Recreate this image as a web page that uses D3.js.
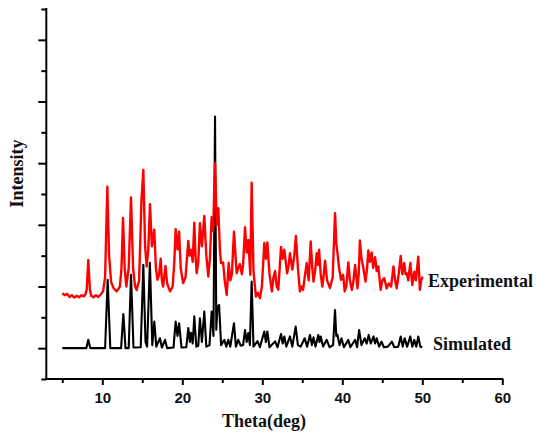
<!DOCTYPE html>
<html>
<head>
<meta charset="utf-8">
<script src="https://cdn.jsdelivr.net/npm/d3@7"></script>
<style>
  html, body { margin: 0; padding: 0; background: #fff; }
  svg { display: block; }
</style>
</head>
<body>
<svg id="chart" width="537" height="439"></svg>
<script>
// ---- Data ----
// Simulated pattern: vertices [2θ (deg), intensity (a.u.)]
const simulated = [
  [5.0,0],[8.0,0],[8.25,27],[8.5,0],[10.35,0],[10.67,222],[11.0,0],
  [12.35,0],[12.63,111],[12.9,0],[13.3,0],[13.59,238],[13.9,2],
  [14.8,3],[15.13,270],[15.4,20],[15.6,5],[15.95,277],[16.25,10],[16.5,86],[16.75,5],
  [17.2,32],[17.45,2],[17.84,27],[18.1,0],[18.9,2],[19.17,86],[19.4,40],[19.6,81],[19.9,2],
  [20.5,3],[20.75,65],[20.95,20],[21.1,50],[21.3,15],[21.5,103],[21.75,5],[22.0,8],[22.2,97],
  [22.45,20],[22.75,119],[23.0,5],[23.4,10],[23.67,119],[23.9,40],[24.09,751],[24.25,60],
  [24.4,135],[24.6,140],[24.85,10],[25.25,27],[25.5,5],[25.75,27],[26.0,5],[26.46,81],[26.7,5],
  [27.0,27],[27.3,8],[27.6,10],[27.84,59],[28.05,20],[28.25,49],[28.45,10],[28.67,216],[28.9,5],
  [29.4,23],[29.7,3],[30.25,54],[30.45,20],[30.63,54],[30.9,3],[31.6,22],[31.9,3],[32.34,46],
  [32.55,15],[32.75,38],[33.0,5],[33.46,38],[33.75,5],[34.17,70],[34.45,10],[34.8,5],[35.3,32],
  [35.6,5],[35.96,43],[36.2,10],[36.4,35],[36.65,5],[37.0,43],[37.15,20],[37.3,38],[37.6,5],
  [38.05,27],[38.4,3],[38.85,10],[39.09,124],[39.25,40],[39.4,43],[39.65,10],[39.9,32],[40.2,3],
  [40.75,27],[41.0,3],[41.6,27],[41.85,3],[42.1,59],[42.4,10],[42.8,32],[43.05,15],[43.3,43],
  [43.55,15],[43.9,38],[44.1,15],[44.3,32],[44.6,5],[44.9,21],[45.2,3],[45.7,5],[46.2,21],
  [46.5,3],[47.0,5],[47.3,38],[47.55,5],[47.8,32],[48.1,5],[48.5,38],[48.75,5],[49.0,27],
  [49.25,5],[49.5,38],[49.75,5],[50.0,3]
];
// Experimental pattern (plotted with its stacking offset): vertices [2θ (deg), intensity (a.u.)]
const experimental = [
  [5.0,178],[5.3,172],[5.6,176],[5.9,166],[6.2,172],[6.5,164],[6.8,170],[7.1,165],[7.4,172],
  [7.7,168],[7.9,175],[8.05,190],[8.25,286],[8.45,190],[8.6,170],[8.9,165],[9.2,172],[9.5,166],
  [9.8,174],[10.1,185],[10.35,230],[10.63,524],[10.85,300],[11.1,215],[11.4,195],[11.8,184],
  [12.2,200],[12.4,260],[12.59,422],[12.8,260],[13.0,200],[13.3,260],[13.59,489],[13.85,260],
  [14.1,200],[14.3,189],[14.6,220],[14.9,481],[15.13,578],[15.35,330],[15.55,265],[15.75,320],
  [15.96,467],[16.2,330],[16.5,384],[16.7,260],[16.9,222],[17.1,240],[17.3,290],[17.45,220],
  [17.6,200],[17.9,267],[18.1,210],[18.46,184],[18.8,200],[19.0,280],[19.17,386],[19.4,320],
  [19.6,378],[19.8,260],[20.1,211],[20.4,230],[20.75,348],[20.9,300],[21.1,319],[21.3,280],
  [21.5,407],[21.65,300],[21.8,243],[22.0,280],[22.2,405],[22.45,330],[22.75,429],[23.0,300],
  [23.25,232],[23.45,290],[23.67,425],[23.85,380],[24.09,600],[24.3,400],[24.5,454],[24.7,320],
  [24.84,276],[25.1,278],[25.3,220],[25.55,173],[25.8,276],[26.0,220],[26.2,240],[26.46,378],
  [26.65,300],[26.8,243],[27.0,260],[27.2,273],[27.45,240],[27.6,270],[27.84,392],[28.05,310],
  [28.25,351],[28.5,238],[28.67,537],[28.9,250],[29.2,167],[29.45,180],[29.7,162],[29.95,200],
  [30.25,341],[30.45,290],[30.63,343],[30.9,240],[31.2,184],[31.4,230],[31.6,250],[31.8,200],
  [32.0,190],[32.34,328],[32.55,290],[32.75,319],[33.1,243],[33.3,270],[33.46,308],[33.75,255],
  [34.0,300],[34.2,364],[34.45,260],[34.7,184],[34.9,200],[35.1,189],[35.3,230],[35.55,276],
  [35.8,220],[36.05,346],[36.25,260],[36.4,216],[36.6,250],[36.8,308],[36.95,270],[37.1,319],
  [37.3,240],[37.5,200],[37.65,230],[37.84,284],[38.1,220],[38.46,195],[38.8,230],[39.09,438],
  [39.25,340],[39.4,308],[39.6,260],[39.84,222],[40.1,238],[40.3,184],[40.5,200],[40.75,278],
  [40.95,220],[41.2,189],[41.4,220],[41.6,270],[41.9,194],[42.05,240],[42.2,349],[42.4,290],
  [42.6,265],[42.9,216],[43.1,260],[43.25,317],[43.45,280],[43.67,310],[43.85,260],[44.1,295],
  [44.3,250],[44.5,265],[44.8,189],[45.0,220],[45.25,227],[45.55,194],[45.8,210],[46.1,200],
  [46.4,265],[46.6,220],[46.8,194],[47.05,240],[47.3,299],[47.5,240],[47.75,276],[47.9,240],
  [48.05,243],[48.25,220],[48.5,276],[48.75,205],[49.0,248],[49.2,220],[49.5,297],[49.7,189],
  [49.85,220],[50.05,232]
];
const xMajorTicks = [10, 20, 30, 40, 50, 60];
const xMinorTicks = [5, 15, 25, 35, 45, 55];
const yMajorTicks = [0, 200, 400, 600, 800, 1000];
const yMinorTicks = [-100, 100, 300, 500, 700, 900, 1100];
const xLabel = "Theta(deg)";
const yLabel = "Intensity";
const seriesLabels = ["Experimental", "Simulated"];

// ---- Drawing ----
const svg = d3.select("#chart");
const x = d3.scaleLinear().domain([3, 60]).range([46.3, 502.3]);
const y = d3.scaleLinear().domain([-100, 1100]).range([379, 9]);

const line = d3.line().x(d => x(d[0])).y(d => y(d[1]));

svg.append("path").datum(simulated)
  .attr("d", line).attr("fill", "none")
  .attr("stroke", "#000").attr("stroke-width", 2.1).attr("stroke-linejoin", "round");
svg.append("path").datum(experimental)
  .attr("d", line).attr("fill", "none")
  .attr("stroke", "#ff0000").attr("stroke-width", 2.4).attr("stroke-linejoin", "round");

// x axis
const gx = svg.append("g").attr("transform", `translate(0,${y(-100)})`);
gx.call(d3.axisBottom(x).tickValues(xMinorTicks).tickSize(4).tickFormat("").tickSizeOuter(0));
const gx2 = svg.append("g").attr("transform", `translate(0,${y(-100)})`);
gx2.call(d3.axisBottom(x).tickValues(xMajorTicks).tickSize(6).tickPadding(5).tickSizeOuter(0));
gx2.select(".domain").remove();
[gx, gx2].forEach(g => {
  g.selectAll("path,line").attr("stroke", "#000").attr("stroke-width", 2);
});
gx.select(".domain").attr("d", `M${x(3)-1},0H${x(60)+1}`);
gx2.selectAll("text")
  .attr("font-family", "'Liberation Sans', Arial, sans-serif")
  .attr("font-weight", "bold").attr("font-size", 15).attr("fill", "#111")
  .attr("dy", "0.85em");

// y axis
const gy = svg.append("g").attr("transform", `translate(${x(3)},0)`);
gy.call(d3.axisLeft(y).tickValues(yMinorTicks).tickSize(5).tickFormat("").tickSizeOuter(0));
const gy2 = svg.append("g").attr("transform", `translate(${x(3)},0)`);
gy2.call(d3.axisLeft(y).tickValues(yMajorTicks).tickSize(8).tickFormat("").tickSizeOuter(0));
gy2.select(".domain").remove();
[gy, gy2].forEach(g => {
  g.selectAll("path,line").attr("stroke", "#000").attr("stroke-width", 2);
});
gy.select(".domain").attr("d", `M0,${y(1100)-1}V${y(-100)+1}`);

// labels
const serif = "'Liberation Serif', 'Times New Roman', serif";
svg.append("text").text(xLabel)
  .attr("x", 264).attr("y", 427).attr("text-anchor", "middle")
  .attr("font-family", serif).attr("font-weight", "bold").attr("font-size", 18).attr("fill", "#111");
svg.append("text").text(yLabel)
  .attr("transform", "translate(23,173.5) rotate(-90)").attr("text-anchor", "middle")
  .attr("font-family", serif).attr("font-weight", "bold").attr("font-size", 18).attr("fill", "#111");
svg.append("text").text(seriesLabels[0])
  .attr("x", 428).attr("y", 287)
  .attr("font-family", serif).attr("font-weight", "bold").attr("font-size", 18).attr("fill", "#111");
svg.append("text").text(seriesLabels[1])
  .attr("x", 433).attr("y", 350)
  .attr("font-family", serif).attr("font-weight", "bold").attr("font-size", 18).attr("fill", "#111");
</script>
</body>
</html>
